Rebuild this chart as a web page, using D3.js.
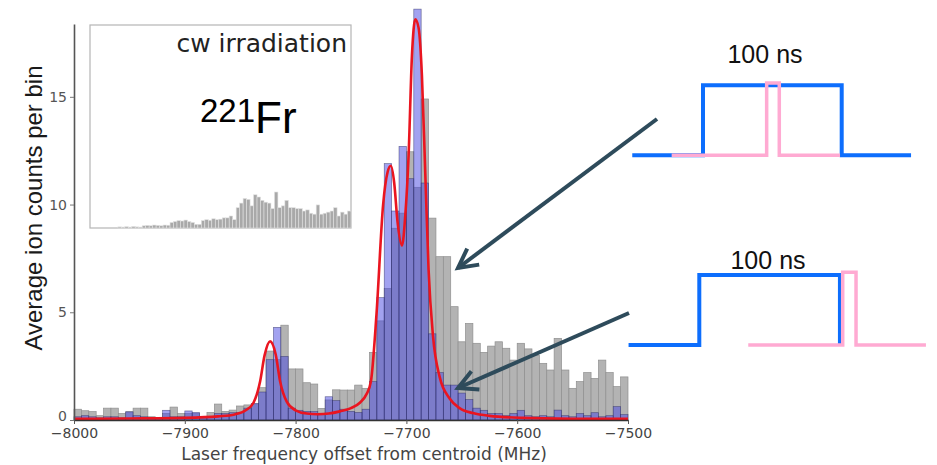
<!DOCTYPE html>
<html>
<head>
<meta charset="utf-8">
<script src="https://cdn.jsdelivr.net/npm/d3@7"></script>
<style>
  html, body { margin: 0; padding: 0; background: #fff; }
  svg { display: block; }
</style>
</head>
<body>
<div id="chart"></div>
<script>
// histogram bins: 75 bins from -8000 to -7500 MHz
const binStart = -8000;
const binCount = 75;
const binWidth = 500 / binCount;

// probe laser overlapping the excitation pulse (grey)
const overlapCounts = [
    0.5, 0.43, 0.39, 0.2, 0.55, 0.55, 0.3, 0.38, 0.55, 0.55,
    0.15, 0.12, 0.3, 0.6, 0.3, 0.3, 0.3, 0.15, 0.35, 0.74,
    0.4, 0.46, 0.65, 0.7, 0.74, 1.5, 3.2, 2.8, 4.4, 2.37,
    2.37, 1.73, 1.67, 0.54, 0.93, 1.4, 1.39, 1.39, 1.62, 1.47,
    3.14, 4.6, 6.1, 8.9, 9.6, 12.45, 10.8, 14.9, 9.37, 7.58,
    7.58, 5.26, 3.63, 4.48, 3.56, 3.14, 3.43, 3.63, 3.33, 2.78,
    3.56, 3.3, 3.0, 2.63, 2.32, 3.79, 2.32, 1.47, 1.78, 2.2,
    1.93, 2.78, 2.2, 1.55, 2.0
];

// probe laser delayed after the excitation pulse (blue)
const delayedCounts = [
    0.15, 0.2, 0.15, 0.1, 0.15, 0.15, 0.1, 0.38, 0.2, 0.15,
    0.1, 0.1, 0.45, 0.15, 0.15, 0.42, 0.35, 0.1, 0.15, 0.3,
    0.3, 0.34, 0.34, 0.55, 0.77, 1.3, 2.8, 4.3, 2.95, 0.55,
    0.45, 0.4, 0.39, 0.3, 1.08, 0.9, 0.5, 0.4, 0.35, 0.5,
    1.78, 5.68, 11.9, 9.7, 12.7, 11.2, 19.07, 11.0, 4.0, 2.2,
    1.62, 1.62, 1.25, 0.95, 0.55, 0.45, 0.3, 0.3, 0.2, 0.3,
    0.45, 0.2, 0.15, 0.2, 0.15, 0.46, 0.2, 0.15, 0.3, 0.2,
    0.34, 0.15, 0.2, 0.62, 0.25
];

// fitted curve
const fitFreq = [
    -8000, -7950, -7900, -7870, -7855, -7845, -7838, -7832, -7828, -7823,
    -7818, -7814, -7808, -7800, -7790, -7780, -7770, -7760, -7750, -7742,
    -7736, -7732, -7727, -7721, -7717, -7714, -7711, -7708, -7704, -7701,
    -7698, -7695, -7692, -7689, -7686, -7683, -7680, -7676, -7670, -7661,
    -7652, -7640, -7625, -7595, -7550, -7500
];
const fitValue = [
    0.05, 0.07, 0.1, 0.17, 0.26, 0.45, 0.8, 1.8, 3.0, 3.65,
    3.05, 1.8, 0.85, 0.45, 0.3, 0.27, 0.3, 0.4, 0.55, 0.8,
    1.2, 1.8, 4.9, 10.0, 11.5, 11.8, 11.0, 9.2, 8.1, 9.5,
    12.3, 16.9, 18.6, 18.2, 16.0, 11.5, 7.0, 3.9, 2.0, 1.0,
    0.55, 0.32, 0.19, 0.1, 0.06, 0.05
];

// inset: cw irradiation spectrum, same bins
const cwCounts = [
    0, 0, 0, 0, 0, 0, 0, 0, 0.06, 0.05,
    0.07, 0.05, 0.08, 0.06, 0.05, 0.12, 0.14, 0.12, 0.16, 0.14,
    0.12, 0.16, 0.15, 0.3, 0.35, 0.4, 0.38, 0.43, 0.35, 0.3,
    0.2, 0.2, 0.4, 0.45, 0.42, 0.5, 0.45, 0.48, 0.55, 0.55,
    0.65, 0.45, 1.1, 1.35, 1.6, 1.55, 1.2, 1.8, 1.68, 1.5,
    1.4, 1.35, 1.05, 1.95, 1.1, 1.2, 1.5, 1.1, 1.1, 1.05,
    1.05, 0.92, 0.98, 0.8, 0.75, 1.25, 0.75, 0.8, 0.86, 0.92,
    1.1, 0.65, 0.86, 0.75, 0.92
];

const xTicks = [-8000, -7900, -7800, -7700, -7600, -7500];
const yTicks = [0, 5, 10, 15];

// pulse timing sketches (ns, level 0/1)
const pulseTopBlue = [[-51, 0], [0, 0], [0, 1], [100, 1], [100, 0], [150, 0]];
const pulseTopPink = [[-22.6, 0], [45.9, 0], [45.9, 1.033], [55, 1.033], [55, 0], [98.8, 0]];
const pulseBotBlue = [[-51, 0], [0, 0], [0, 1], [101.4, 1], [101.4, 0]];
const pulseBotPink = [[35.3, 0], [103.4, 0], [103.4, 1.04], [113, 1.04], [113, 0], [163.4, 0]];

const W = 937, H = 465;
const svg = d3.select('#chart').append('svg')
    .attr('width', W).attr('height', H)
    .attr('viewBox', `0 0 ${W} ${H}`);

svg.append('rect').attr('width', W).attr('height', H).attr('fill', '#fff');

const x = d3.scaleLinear().domain([-8000, -7500]).range([74, 628]);
const y = d3.scaleLinear().domain([0, 18.38]).range([420, 24]);

const bins = d3.range(binCount).map(i => ({
    x0: binStart + i * binWidth,
    x1: binStart + (i + 1) * binWidth,
    grey: overlapCounts[i],
    blue: delayedCounts[i]
}));

// grey histogram
svg.append('g')
    .selectAll('rect')
    .data(bins)
    .enter()
    .append('rect')
    .attr('x', d => x(d.x0))
    .attr('y', d => y(d.grey))
    .attr('width', d => x(d.x1) - x(d.x0))
    .attr('height', d => y(0) - y(d.grey))
    .attr('fill', '#b3b3b3')
    .attr('stroke', '#8f8f8f')
    .attr('stroke-width', 0.7);

// blue histogram on top, semi transparent
svg.append('g')
    .selectAll('rect')
    .data(bins)
    .enter()
    .append('rect')
    .attr('x', d => x(d.x0))
    .attr('y', d => y(d.blue))
    .attr('width', d => x(d.x1) - x(d.x0))
    .attr('height', d => y(0) - y(d.blue))
    .attr('fill', 'rgb(70,70,225)')
    .attr('fill-opacity', 0.5)
    .attr('stroke', '#2a2a60')
    .attr('stroke-opacity', 0.6)
    .attr('stroke-width', 0.7);

// fit
const fit = fitFreq.map((f, i) => ({ f, v: fitValue[i] }));
svg.append('path')
    .datum(fit)
    .attr('fill', 'none')
    .attr('stroke', '#ea1520')
    .attr('stroke-width', 2.6)
    .attr('stroke-linejoin', 'round')
    .attr('d', d3.line()
        .x(d => x(d.f))
        .y(d => y(d.v))
        .curve(d3.curveMonotoneX));

// axes
const xAxis = svg.append('g')
    .attr('transform', 'translate(0,420)')
    .call(d3.axisBottom(x).tickValues(xTicks).tickFormat(d3.format('d'))
        .tickSize(4).tickSizeOuter(0));
xAxis.select('.domain').attr('stroke', '#333').attr('stroke-width', 1.5);
xAxis.selectAll('.tick line').attr('stroke', '#555');
xAxis.selectAll('.tick text')
    .attr('y', 8)
    .attr('font-family', 'DejaVu Sans')
    .attr('font-size', 14)
    .attr('fill', '#444');

const yAxis = svg.append('g')
    .attr('transform', 'translate(74,0)')
    .call(d3.axisLeft(y).tickValues(yTicks).tickSize(4).tickSizeOuter(0));
yAxis.select('.domain').attr('stroke', '#555').attr('stroke-width', 1.6);
yAxis.selectAll('.tick line').attr('stroke', '#777');
yAxis.selectAll('.tick text')
    .attr('font-family', 'DejaVu Sans')
    .attr('font-size', 14)
    .attr('fill', '#555')
    .attr('dy', d => d === 0 ? '0.05em' : '0.32em');

svg.append('text')
    .attr('x', 364)
    .attr('y', 460)
    .attr('text-anchor', 'middle')
    .attr('font-family', 'DejaVu Sans')
    .attr('font-size', 17)
    .attr('fill', '#444')
    .text('Laser frequency offset from centroid (MHz)');

svg.append('text')
    .attr('transform', 'translate(42,208) rotate(-90)')
    .attr('text-anchor', 'middle')
    .attr('font-family', 'Liberation Sans, Arial, sans-serif')
    .attr('font-size', 24)
    .attr('fill', '#1a1a1a')
    .text('Average ion counts per bin');

// inset
const inset = { left: 90, top: 25, right: 351, bottom: 228 };
svg.append('rect')
    .attr('x', inset.left).attr('y', inset.top)
    .attr('width', inset.right - inset.left)
    .attr('height', inset.bottom - inset.top)
    .attr('fill', '#fff')
    .attr('stroke', '#b5b5b5')
    .attr('stroke-width', 1.2);

const ix = d3.scaleLinear().domain([-8000, -7500]).range([inset.left, inset.right]);
const iy = d3.scaleLinear().domain([0, 11]).range([inset.bottom, inset.top]);

svg.append('g')
    .selectAll('rect')
    .data(cwCounts.map((v, i) => ({ x0: binStart + i * binWidth, v })))
    .enter()
    .append('rect')
    .attr('x', d => ix(d.x0))
    .attr('y', d => iy(d.v))
    .attr('width', ix(binStart + binWidth) - ix(binStart))
    .attr('height', d => iy(0) - iy(d.v))
    .attr('fill', '#a9a9a9')
    .attr('stroke', '#e2e2e2')
    .attr('stroke-width', 0.6);

svg.append('text')
    .attr('x', 347)
    .attr('y', 52)
    .attr('text-anchor', 'end')
    .attr('font-family', 'DejaVu Sans')
    .attr('font-size', 25)
    .attr('fill', '#222')
    .text('cw irradiation');

const iso = svg.append('text')
    .attr('x', 200)
    .attr('y', 133)
    .attr('font-family', 'Liberation Sans, Arial, sans-serif')
    .attr('fill', '#000');
iso.append('tspan').attr('font-size', 33).attr('dy', -11).text('221');
iso.append('tspan').attr('font-size', 44).attr('dy', 11).text('Fr');

// arrows
const arrowColor = '#2e4b5b';
svg.append('defs').append('marker')
    .attr('id', 'head')
    .attr('markerUnits', 'userSpaceOnUse')
    .attr('markerWidth', 40).attr('markerHeight', 40)
    .attr('viewBox', '-30 -20 40 40')
    .attr('refX', 0).attr('refY', 0)
    .attr('orient', 'auto')
    .append('path')
    .attr('d', 'M-19,-10 L0,0 L-19,10')
    .attr('fill', 'none')
    .attr('stroke', arrowColor)
    .attr('stroke-width', 4)
    .attr('stroke-linejoin', 'miter');

const arrows = [
    { x1: 657, y1: 119, x2: 458, y2: 268 },
    { x1: 629, y1: 313, x2: 458, y2: 388 }
];
svg.append('g')
    .selectAll('line')
    .data(arrows)
    .enter()
    .append('line')
    .attr('x1', d => d.x1).attr('y1', d => d.y1)
    .attr('x2', d => d.x2).attr('y2', d => d.y2)
    .attr('stroke', arrowColor)
    .attr('stroke-width', 4)
    .attr('marker-end', 'url(#head)');

// pulse timing diagrams
function pulseDiagram(ox, oy, blue, pink, labelX, labelY) {
    const px = d3.scaleLinear().domain([0, 100]).range([0, 138.7]);
    const py = d3.scaleLinear().domain([0, 1]).range([0, -70]);
    const line = d3.line().x(d => px(d[0])).y(d => py(d[1]));
    const g = svg.append('g').attr('transform', `translate(${ox},${oy})`);
    g.append('path').datum(blue)
        .attr('d', line).attr('fill', 'none')
        .attr('stroke', '#0d6efd').attr('stroke-width', 4)
        .attr('stroke-linejoin', 'miter');
    g.append('path').datum(pink)
        .attr('d', line).attr('fill', 'none')
        .attr('stroke', '#ffaad2').attr('stroke-width', 3.5)
        .attr('stroke-linejoin', 'miter');
    svg.append('text')
        .attr('x', labelX).attr('y', labelY)
        .attr('text-anchor', 'middle')
        .attr('font-family', 'Liberation Sans, Arial, sans-serif')
        .attr('font-size', 25)
        .attr('fill', '#111')
        .text('100 ns');
}

pulseDiagram(703, 155.3, pulseTopBlue, pulseTopPink, 765, 63);
pulseDiagram(699.3, 345, pulseBotBlue, pulseBotPink, 768, 269);
</script>
</body>
</html>
